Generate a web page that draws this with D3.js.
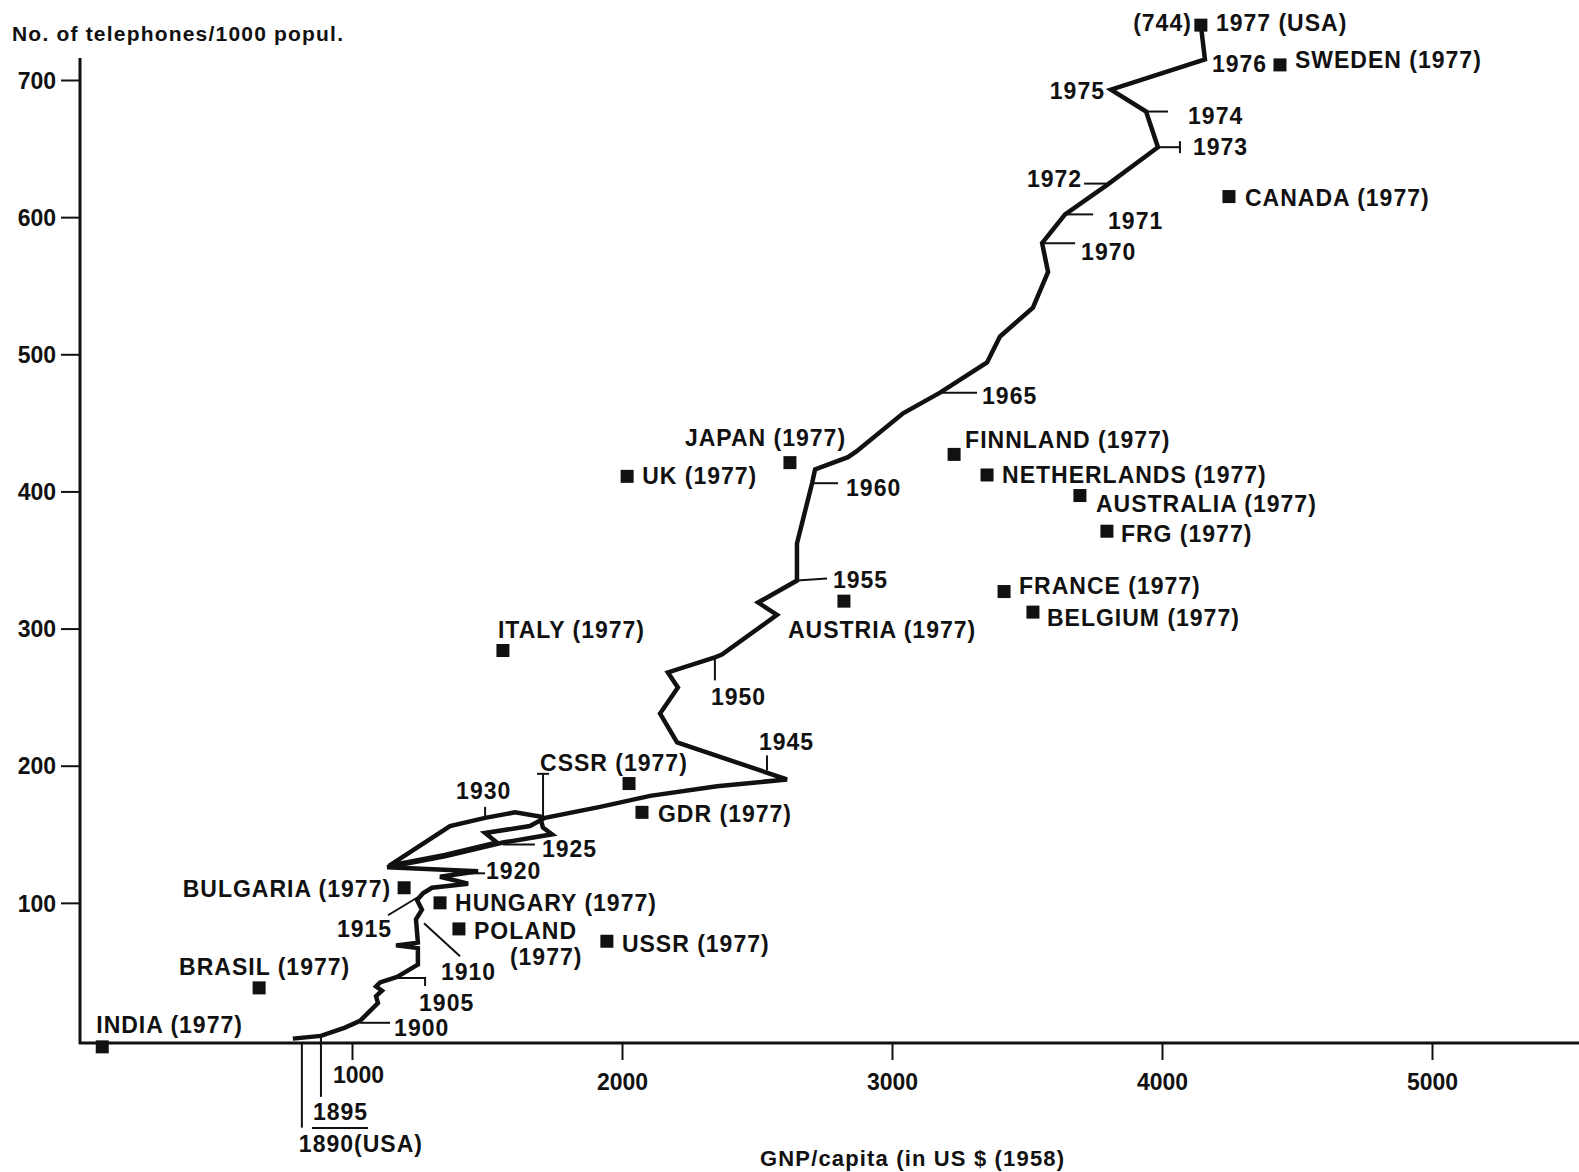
<!DOCTYPE html>
<html><head><meta charset="utf-8">
<script src="https://cdn.jsdelivr.net/npm/d3@7"></script>
<style>
html,body{margin:0;padding:0;background:#fff;}
svg{display:block;}
text{font-family:"Liberation Sans",Arial,Helvetica,sans-serif;font-weight:bold;fill:#111;}
</style></head><body>
<svg id="chart" width="1579" height="1172"></svg>
<script>
// ---------------- DATA ----------------
const yTicks = [100, 200, 300, 400, 500, 600, 700];
const xTicks = [1000, 2000, 3000, 4000, 5000];
const yTitle = "No. of telephones/1000 popul.";
const xTitle = "GNP/capita (in US $ (1958)";

// USA trajectory (GNP/capita in 1958 US $, telephones per 1000 population)
const usaGNP = [781, 885, 974, 1030, 1096, 1089, 1111, 1089, 1104, 1167, 1244, 1244, 1163, 1244, 1237, 1259, 1241, 1263, 1296, 1430, 1326, 1467, 1130, 1344, 1559, 1741, 1707, 1696, 1604, 1493, 1363, 1137, 1344, 1537, 1493, 1659, 1715, 1919, 2104, 2352, 2611, 2204, 2141, 2207, 2170, 2344, 2370, 2574, 2504, 2648, 2648, 2704, 2715, 2837, 2867, 3041, 3178, 3352, 3400, 3522, 3578, 3556, 3641, 3793, 3985, 3941, 3811, 4159, 4144];
const usaTel = [1, 3, 9, 14, 27, 32, 36, 39, 42, 46, 55, 67, 69, 71, 88, 95, 102, 107, 111, 114, 119, 123, 126, 134, 144, 150, 155, 163, 166, 162, 156, 127, 135, 144, 151, 156, 162, 170, 178, 185, 190, 217, 238, 257, 268, 279, 281, 310, 319, 335, 362, 406, 416, 425, 429, 457, 472, 494, 513, 534, 560, 581, 602, 623, 651, 677, 693, 715, 740];
const usaYear = [1890, 1895, 0, 1900, 0, 0, 0, 0, 0, 1905, 0, 0, 0, 0, 1910, 0, 0, 1915, 0, 0, 0, 1920, 0, 0, 1925, 0, 0, 0, 0, 1930, 0, 0, 0, 0, 0, 0, 1940, 0, 0, 0, 1945, 0, 0, 0, 0, 1950, 0, 0, 0, 1955, 0, 1960, 0, 0, 0, 0, 1965, 0, 0, 0, 0, 1970, 1971, 1972, 1973, 1974, 1975, 1976, 1977];
const yearText = {1890: "1890(USA)", 1895: "1895", 1900: "1900", 1905: "1905", 1910: "1910", 1915: "1915", 1920: "1920", 1925: "1925", 1930: "1930", 1940: "", 1945: "1945", 1950: "1950", 1955: "1955", 1960: "1960", 1965: "1965", 1970: "1970", 1971: "1971", 1972: "1972", 1973: "1973", 1974: "1974", 1975: "1975", 1976: "1976"};
const usa1977Value = "(744)";
const usa1977Label = "1977 (USA)";

// Countries in 1977
const countries = ["INDIA", "BRASIL", "BULGARIA", "HUNGARY", "POLAND", "USSR", "GDR", "CSSR", "ITALY", "AUSTRIA", "UK", "JAPAN", "FINNLAND", "NETHERLANDS", "AUSTRALIA", "FRG", "FRANCE", "BELGIUM", "CANADA", "SWEDEN"];
const countryGNP = [75, 656, 1193, 1326, 1396, 1944, 2074, 2026, 1559, 2822, 2019, 2622, 3230, 3352, 3696, 3796, 3415, 3522, 4248, 4437];
const countryTel = [-5, 38, 111, 100, 81, 72, 166, 187, 284, 320, 411, 421, 427, 412, 397, 371, 327, 312, 615, 711];
const countryYear = "(1977)";

// ---------------- LAYOUT (label offsets, px) ----------------
const countryLabelLayout = {
  INDIA: [[-6, -14, "start"]], BRASIL: [[-80, -13, "start"]], BULGARIA: [[-13, 9, "end"]],
  HUNGARY: [[15, 8, "start"]], POLAND: [[15, 10, "start"], [51, 36, "start"]],
  USSR: [[15, 11, "start"]], GDR: [[16, 10, "start"]], CSSR: [[-89, -13, "start"]],
  ITALY: [[-5, -13, "start"]], AUSTRIA: [[-56, 37, "start"]], UK: [[15, 8, "start"]],
  JAPAN: [[-105, -17, "start"]], FINNLAND: [[11, -6, "start"]], NETHERLANDS: [[15, 8, "start"]],
  AUSTRALIA: [[16, 16, "start"]], FRG: [[14, 11, "start"]], FRANCE: [[15, 2, "start"]],
  BELGIUM: [[14, 14, "start"]], CANADA: [[16, 9, "start"]], SWEDEN: [[15, 3, "start"]]
};
const yearLayout = {
  1890: {dx: 6, dy: 113, a: "start", lead: [[[9, 4], [9, 89]]]},
  1895: {dx: -8, dy: 84, a: "start", lead: [[[0, 2], [0, 61]], [[-9, 92], [47, 92]]]},
  1900: {dx: 34, dy: 15, a: "start", lead: [[[0, 2], [30, 2]]]},
  1905: {dx: 22, dy: 34, a: "start", lead: [[[0, 1], [28, 1], [28, 9]]]},
  1910: {dx: 25, dy: 61, a: "start", lead: [[[8, 4], [44, 37]]]},
  1915: {dx: -86, dy: 44, a: "start", lead: [[[-2, 2], [-35, 22]]]},
  1920: {dx: 8, dy: 8, a: "start", lead: [[[-8, 2], [7, 2]]]},
  1925: {dx: 39, dy: 14, a: "start", lead: [[[0, 2], [32, 2]]]},
  1930: {dx: -29, dy: -19, a: "start", lead: [[[0, 0], [0, -11]]]},
  1940: {dx: 0, dy: 0, a: "start", lead: [[[-2, 0], [-2, -44]], [[-8, -44], [4, -44]]]},
  1945: {dx: -28, dy: -29, a: "start", lead: [[[-20, -24], [-20, -9]]]},
  1950: {dx: -4, dy: 48, a: "start", lead: [[[0, 0], [0, 23]]]},
  1955: {dx: 36, dy: 7, a: "start", lead: [[[0, 0], [30, -2]]]},
  1960: {dx: 34, dy: 13, a: "start", lead: [[[0, 0], [26, 0]]]},
  1965: {dx: 42, dy: 11, a: "start", lead: [[[0, 0], [37, 0]]]},
  1970: {dx: 39, dy: 17, a: "start", lead: [[[0, 0], [33, 0]]]},
  1971: {dx: 43, dy: 15, a: "start", lead: [[[0, 0], [28, 0]]]},
  1972: {dx: -24, dy: 1, a: "end", lead: [[[0, -2], [-22, -2]]]},
  1973: {dx: 35, dy: 8, a: "start", lead: [[[0, 0], [22, 0]], [[22, -6], [22, 6]]]},
  1974: {dx: 42, dy: 12, a: "start", lead: [[[0, 0], [22, 0]]]},
  1975: {dx: -6, dy: 9, a: "end", lead: []},
  1976: {dx: 7, dy: 13, a: "start", lead: []}
};

// ---------------- DRAW ----------------
const svg = d3.select("#chart");
const W = 1579;
const x = d3.scaleLinear().domain([0, 5000]).range([82, 1432]);
const y = d3.scaleLinear().domain([0, 700]).range([1040, 80]);
const axisX0 = 80, axisY0 = y(0) + 3;
const FS = 23;

function lbl(g, px, py, t, anchor, size) {
  return g.append("text").attr("x", px).attr("y", py).attr("text-anchor", anchor || "start")
    .attr("font-size", size || FS).attr("letter-spacing", "1px").text(t);
}

// axes lines
svg.append("line").attr("x1", axisX0).attr("x2", axisX0).attr("y1", 58).attr("y2", axisY0 + 1)
  .attr("stroke", "#111").attr("stroke-width", 3);
svg.append("line").attr("x1", axisX0 - 1).attr("x2", W).attr("y1", axisY0).attr("y2", axisY0)
  .attr("stroke", "#111").attr("stroke-width", 3);

const gy = svg.append("g").attr("transform", `translate(${axisX0},0)`)
  .call(d3.axisLeft(y).tickValues(yTicks).tickSize(19).tickPadding(5).tickFormat(d3.format("d")));
gy.select(".domain").remove();
gy.attr("font-family", null).attr("font-size", null);
gy.selectAll(".tick line").attr("stroke", "#111").attr("stroke-width", 2);
gy.selectAll(".tick text").attr("font-size", FS).attr("fill", "#111").attr("dy", "0.36em");

const gx = svg.append("g").attr("transform", `translate(0,${axisY0})`)
  .call(d3.axisBottom(x).tickValues(xTicks).tickSize(17).tickPadding(14).tickFormat(d3.format("d")));
gx.select(".domain").remove();
gx.attr("font-family", null).attr("font-size", null);
gx.selectAll(".tick line").attr("stroke", "#111").attr("stroke-width", 2);
gx.selectAll(".tick text").attr("font-size", FS).attr("fill", "#111")
  .attr("dx", (d, i) => i === 0 ? 6 : 0).attr("dy", (d, i) => i === 0 ? "0.41em" : "0.71em");

// titles
svg.append("text").attr("x", 12).attr("y", 41).attr("font-size", 21)
  .attr("textLength", 331).attr("lengthAdjust", "spacing").text(yTitle);
svg.append("text").attr("x", 760).attr("y", 1166).attr("font-size", 22)
  .attr("textLength", 304).attr("lengthAdjust", "spacing").text(xTitle);

// USA trajectory
const idx = d3.range(usaGNP.length);
const line = d3.line().x(i => x(usaGNP[i])).y(i => y(usaTel[i]));
svg.append("path").attr("d", line(idx)).attr("fill", "none").attr("stroke", "#111")
  .attr("stroke-width", 4.5).attr("stroke-linejoin", "miter").attr("stroke-miterlimit", 3);

// year labels + leaders
const gYear = svg.append("g");
idx.forEach(i => {
  const yr = usaYear[i];
  if (!yr || !yearLayout[yr]) return;
  const L = yearLayout[yr];
  const vx = x(usaGNP[i]), vy = y(usaTel[i]);
  L.lead.forEach(seg => {
    gYear.append("path").attr("d", d3.line()(seg.map(p => [vx + p[0], vy + p[1]])))
      .attr("fill", "none").attr("stroke", "#111").attr("stroke-width", 2);
  });
  if (yearText[yr]) lbl(gYear, vx + L.dx, vy + L.dy, yearText[yr], L.a);
});

// USA 1977 end point
const last = usaGNP.length - 1;
const ux = x(usaGNP[last]), uy = y(usaTel[last]);
const SQ = 13;
svg.append("rect").attr("x", ux - SQ / 2).attr("y", uy - SQ / 2).attr("width", SQ).attr("height", SQ).attr("fill", "#111");
lbl(svg, ux - 9, uy + 6, usa1977Value, "end");
lbl(svg, ux + 15, uy + 6, usa1977Label, "start");

// countries
const gC = svg.append("g");
countries.forEach((c, i) => {
  const cx = x(countryGNP[i]), cy = y(countryTel[i]);
  gC.append("rect").attr("x", cx - SQ / 2).attr("y", cy - SQ / 2).attr("width", SQ).attr("height", SQ).attr("fill", "#111");
  const lay = countryLabelLayout[c];
  const texts = lay.length > 1 ? [c, countryYear] : [c + " " + countryYear];
  lay.forEach((l, k) => lbl(gC, cx + l[0], cy + l[1], texts[k], l[2]));
});
</script>
</body></html>
